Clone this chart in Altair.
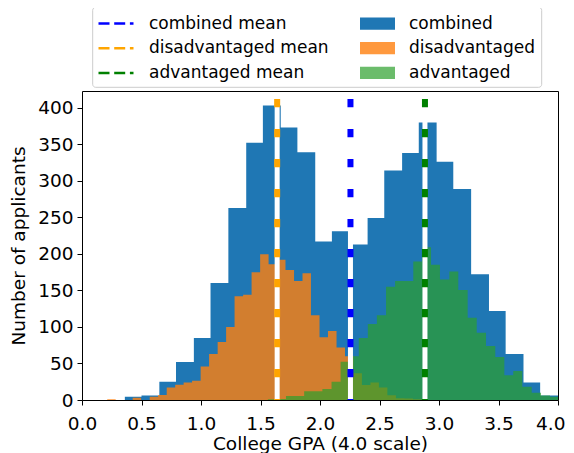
import altair as alt
import pandas as pd

# ---- data ----
series_names = ["combined", "disadvantaged", "advantaged"]
series_colors = ["#1f77b4", "#ff7f0e", "#2ca02c"]
series_alpha = [1.0, 0.8, 0.7]

combined_edges = [0.36, 0.50, 0.65, 0.79, 0.94, 1.08, 1.23, 1.38, 1.52, 1.67, 1.81,
                  1.96, 2.10, 2.25, 2.40, 2.54, 2.69, 2.83, 2.98, 3.12, 3.27, 3.42,
                  3.56, 3.71, 3.85, 4.00]
combined_counts = [4.5, 6, 25, 52, 85, 160, 263, 352, 403, 373, 339, 217, 231, 213,
                   249, 314, 338, 380, 326, 289, 172, 122, 63, 24, 6]

disadv_edges = [0.212, 0.283, 0.355, 0.426, 0.497, 0.569, 0.640, 0.712, 0.783, 0.854,
                0.925, 0.997, 1.068, 1.140, 1.211, 1.282, 1.354, 1.425, 1.497, 1.568,
                1.639, 1.710, 1.782, 1.853, 1.924, 1.996, 2.067, 2.139, 2.210, 2.281,
                2.352, 2.424, 2.495, 2.566, 2.638, 2.709, 2.781, 2.852]
disadv_counts = [1, 0, 0, 3, 0, 4.5, 7, 17, 21, 24, 26.5, 46, 63, 79.5, 100, 142, 144,
                 175, 199.5, 186, 192, 178, 163, 173.5, 116, 86, 94.5, 72, 60, 36.5,
                 20.5, 24, 17, 6.5, 2.5, 2, 1]

adv_edges = [1.562, 1.638, 1.714, 1.791, 1.867, 1.944, 2.020, 2.097, 2.173, 2.250,
             2.326, 2.402, 2.478, 2.555, 2.631, 2.708, 2.784, 2.857, 2.933, 3.008,
             3.087, 3.162, 3.241, 3.317, 3.395, 3.473, 3.549, 3.624, 3.700, 3.779,
             3.857, 3.933, 4.000]
adv_counts = [1, 1.5, 5.5, 5.5, 12, 12, 15, 25, 52.5, 60, 85, 104, 116, 155, 163, 163,
              189.5, 209, 185, 165, 176, 150.7, 112.7, 92, 74, 59, 34, 39.7, 18, 10,
              6, 4.5]

mean_labels = ["combined mean", "disadvantaged mean", "advantaged mean"]
mean_values = [2.256, 1.640, 2.882]
mean_colors = ["#0000ff", "#ffa500", "#008000"]
mean_top = 412

x_ticks = [0.0, 0.5, 1.0, 1.5, 2.0, 2.5, 3.0, 3.5, 4.0]
y_ticks = [0, 50, 100, 150, 200, 250, 300, 350, 400]


def step_rows(name, edges, counts):
    rows = [{"series": name, "gpa": e, "count": c} for e, c in zip(edges[:-1], counts)]
    rows.append({"series": name, "gpa": edges[-1], "count": counts[-1]})
    return rows


hist = pd.DataFrame(
    step_rows("combined", combined_edges, combined_counts)
    + step_rows("disadvantaged", disadv_edges, disadv_counts)
    + step_rows("advantaged", adv_edges, adv_counts)
)
means = pd.DataFrame({"label": mean_labels, "gpa": mean_values})

FONT = "DejaVu Sans"
x_scale = alt.Scale(domain=[0, 4], nice=False, zero=False)
y_scale = alt.Scale(domain=[0, 423], nice=False)

x_axis = alt.Axis(
    values=x_ticks, format=".1f", title="College GPA (4.0 scale)",
    labelPadding=9, titlePadding=2, labelFlush=False,
    labelAlign={"condition": {"test": "datum.value >= 4", "value": "right"}, "value": "center"},
    labelOffset={"condition": {"test": "datum.value >= 4", "value": 7}, "value": 0},
)
y_axis = alt.Axis(values=y_ticks, title="Number of applicants",
                  labelPadding=4, titlePadding=9)

fill_scale = alt.Scale(domain=series_names, range=series_colors)
op_scale = alt.Scale(type="ordinal", domain=series_names, range=series_alpha)

fill_legend = alt.Legend(orient="none", legendX=278, legendY=-77.5, title=None,
                         symbolType="M-1,-0.35H1V0.35H-1Z", symbolSize=1225,
                         symbolStrokeWidth=0, labelFontSize=17, labelOffset=14,
                         clipHeight=20, rowPadding=4.7, padding=0, labelLimit=400,
                         labelFont=FONT, labelColor="black")
stroke_legend = alt.Legend(orient="none", legendX=15, legendY=-77.5, title=None,
                           symbolType="stroke", symbolSize=1225, symbolStrokeWidth=2.5,
                           symbolDash=[11, 4.7], labelFontSize=17, labelOffset=14,
                           clipHeight=20, rowPadding=4.7, padding=0, labelLimit=400,
                           labelFont=FONT, labelColor="black")

frame = alt.Chart(pd.DataFrame({"k": [0]})).mark_rect(
    fill="white", stroke="#cccccc", strokeWidth=1, cornerRadius=3
).encode(x=alt.value(10.7), x2=alt.value(459.7), y=alt.value(-83.7), y2=alt.value(-3.7))


def area_layer(name):
    return alt.Chart(hist).transform_filter(alt.datum.series == name).mark_area(
        interpolate="step-after"
    ).encode(
        x=alt.X("gpa:Q", scale=x_scale, axis=x_axis),
        y=alt.Y("count:Q", scale=y_scale, axis=y_axis, stack=None),
        fill=alt.Fill("series:N", scale=fill_scale, legend=fill_legend),
        opacity=alt.Opacity("series:N", scale=op_scale, legend=fill_legend),
    )


white_rules = alt.Chart(means).mark_rule(color="white").encode(
    x=alt.X("gpa:Q", scale=x_scale, axis=x_axis),
    y=alt.YDatum(mean_top, scale=y_scale, axis=y_axis),
    y2=alt.Y2Datum(0),
    strokeWidth=alt.value(5),
)
dash_rules = alt.Chart(means).mark_rule().encode(
    x=alt.X("gpa:Q", scale=x_scale, axis=x_axis),
    y=alt.YDatum(mean_top, scale=y_scale, axis=y_axis),
    y2=alt.Y2Datum(0),
    stroke=alt.Stroke("label:N", scale=alt.Scale(domain=mean_labels, range=mean_colors),
                      legend=stroke_legend),
    strokeWidth=alt.value(6),
    strokeDash=alt.value([8.3, 21.7]),
)

chart = alt.layer(
    frame,
    area_layer("combined"),
    area_layer("disadvantaged"),
    area_layer("advantaged"),
    white_rules,
    dash_rules,
).properties(
    width=476, height=309,
    autosize=alt.AutoSizeParams(type="none"),
    padding={"left": 74, "top": 83, "right": 8, "bottom": 53},
).configure_view(
    stroke="black", strokeWidth=1
).configure_axis(
    grid=False, domain=False, tickSize=5, tickColor="black", tickWidth=1,
    labelFont=FONT, labelFontSize=18.5, labelColor="black",
    titleFont=FONT, titleFontSize=18.5, titleColor="black", titleFontWeight="normal",
)

chart.save("out.html", embed_options={"renderer": "svg", "actions": False})
